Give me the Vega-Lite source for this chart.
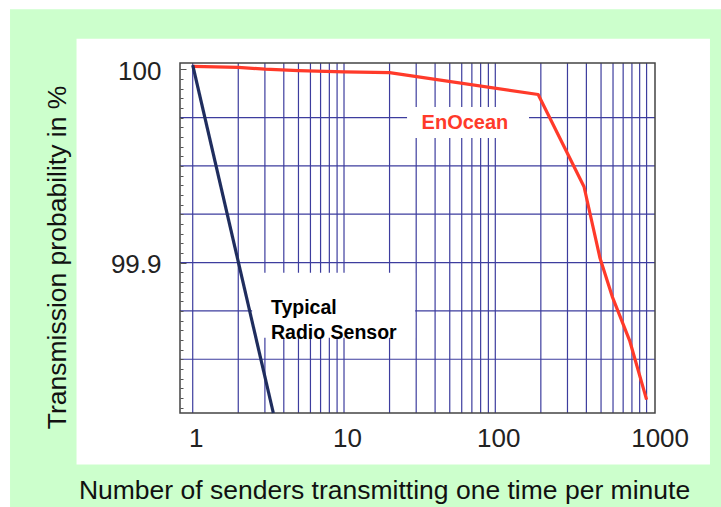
{
  "$schema": "https://vega.github.io/schema/vega-lite/v6.json",
  "width": 475,
  "height": 350,
  "autosize": {"type": "none"},
  "padding": {"left": 180, "top": 63, "right": 66, "bottom": 94},
  "background": "white",
  "config": {
    "font": "Liberation Sans",
    "view": {"stroke": null},
    "axis": {"zindex": 1, "grid": false}
  },
  "resolve": {"axis": {"y": "independent"}},
  "datasets": {
    "panels": [
      {"panel": "green", "x": 0.062, "x2": 5000, "y": 99.70, "y2": 100.031},
      {"panel": "white", "x": 0.1706, "x2": 2624, "y": 99.7956, "y2": 100.0158}
    ],
    "labelboxes": [
      {"x": 26.1, "x2": 167, "y": 99.9644, "y2": 99.9804},
      {"x": 2.47, "x2": 29.5, "y": 99.8611, "y2": 99.8947}
    ],
    "frame": [
      {"x": 0.824, "x2": 1136.6, "y": 99.8222, "y2": 100.0032}
    ],
    "vgrid": [
      {"x": 1}, {"x": 2}, {"x": 3}, {"x": 4}, {"x": 5}, {"x": 6}, {"x": 7}, {"x": 8}, {"x": 9},
      {"x": 10}, {"x": 20}, {"x": 30}, {"x": 40}, {"x": 50}, {"x": 60}, {"x": 70}, {"x": 80}, {"x": 90},
      {"x": 100}, {"x": 200}, {"x": 300}, {"x": 400}, {"x": 500}, {"x": 600}, {"x": 700}, {"x": 800}, {"x": 900},
      {"x": 1000}
    ],
    "hgrid": [
      {"y": 99.85}, {"y": 99.875}, {"y": 99.9}, {"y": 99.925}, {"y": 99.95}, {"y": 99.975}
    ],
    "curves": [
      {"series": "EnOcean", "x": 1, "y": 100.0015},
      {"series": "EnOcean", "x": 2, "y": 100.0009},
      {"series": "EnOcean", "x": 3, "y": 100.0},
      {"series": "EnOcean", "x": 5, "y": 99.9993},
      {"series": "EnOcean", "x": 10, "y": 99.9986},
      {"series": "EnOcean", "x": 20, "y": 99.9982},
      {"series": "EnOcean", "x": 192, "y": 99.9869},
      {"series": "EnOcean", "x": 386, "y": 99.9392},
      {"series": "EnOcean", "x": 492, "y": 99.9023},
      {"series": "EnOcean", "x": 593, "y": 99.8824},
      {"series": "EnOcean", "x": 776, "y": 99.8592},
      {"series": "EnOcean", "x": 1000, "y": 99.8291},
      {"series": "Typical Radio Sensor", "x": 1, "y": 100.0021},
      {"series": "Typical Radio Sensor", "x": 3.41, "y": 99.8222}
    ],
    "labels": [
      {"series": "EnOcean", "x": 63, "y": 99.9721, "text": "EnOcean"},
      {"series": "Typical Radio Sensor", "x": 3.29, "y": 99.8764, "text": ["Typical", "Radio Sensor"]}
    ]
  },
  "layer": [
    {
      "data": {"name": "panels"},
      "mark": {"type": "rect", "clip": false},
      "encoding": {
        "x": {
          "field": "x", "type": "quantitative",
          "scale": {"type": "log", "domain": [0.824, 1136.6], "nice": false},
          "axis": {
            "values": [1, 10, 100, 1000],
            "format": "d",
            "grid": false,
            "ticks": false,
            "domain": false,
            "zindex": 1,
            "labelFont": "Liberation Sans",
            "labelFontSize": 26,
            "labelColor": "#222222",
            "labelPadding": 12,
            "labelOffset": {"condition": {"test": "datum.value == 1000", "value": 13}, "value": 3},
            "labelFlush": false,
            "labelOverlap": false,
            "title": "Number of senders transmitting one time per minute",
            "titleFont": "Liberation Sans",
            "titleFontSize": 26.5,
            "titleFontWeight": "normal",
            "titleColor": "#111111",
            "titleX": 204,
            "titleY": 77,
            "titleAnchor": "middle",
            "titleAlign": "center",
            "titleBaseline": "middle"
          }
        },
        "x2": {"field": "x2"},
        "y": {
          "field": "y", "type": "quantitative",
          "scale": {"domain": [99.8222, 100.0032], "nice": false, "zero": false},
          "axis": {
            "orient": "left",
            "values": [99.9, 100],
            "format": "~g",
            "grid": false,
            "domain": false,
            "ticks": true,
            "zindex": 1,
            "offset": -6,
            "tickColor": "#555555",
            "tickWidth": 1,
            "tickSize": 6,
            "labelFont": "Liberation Sans",
            "labelFontSize": 26,
            "labelColor": "#222222",
            "labelPadding": 19,
            "labelOffset": 2,
            "labelFlush": false,
            "labelOverlap": false,
            "title": "Transmission probability in %",
            "titleFont": "Liberation Sans",
            "titleFontSize": 26.5,
            "titleFontWeight": "normal",
            "titleColor": "#111111",
            "titleAngle": 270,
            "titleX": -129,
            "titleY": 194,
            "titleAlign": "center",
            "titleBaseline": "middle"
          }
        },
        "y2": {"field": "y2"},
        "fill": {
          "field": "panel", "type": "nominal",
          "scale": {"domain": ["green", "white"], "range": ["#ccffcc", "#ffffff"]},
          "legend": null
        }
      }
    },
    {
      "data": {"name": "vgrid"},
      "mark": {"type": "rule", "color": "#3d3d9e", "strokeWidth": 1.2},
      "encoding": {
        "x": {"field": "x", "type": "quantitative", "scale": {"type": "log", "domain": [0.824, 1136.6], "nice": false}}
      }
    },
    {
      "data": {"name": "hgrid"},
      "mark": {"type": "rule", "color": "#3d3d9e", "strokeWidth": 1.2},
      "encoding": {
        "y": {
          "field": "y", "type": "quantitative",
          "scale": {"domain": [99.8222, 100.0032], "nice": false, "zero": false},
          "axis": {
            "orient": "left",
            "values": [99.825, 99.83, 99.835, 99.84, 99.845, 99.85, 99.855, 99.86, 99.865, 99.87, 99.875, 99.88, 99.885, 99.89, 99.895, 99.9, 99.905, 99.91, 99.915, 99.92, 99.925, 99.93, 99.935, 99.94, 99.945, 99.95, 99.955, 99.96, 99.965, 99.97, 99.975, 99.98, 99.985, 99.99, 99.995, 100],
            "labels": false,
            "grid": false,
            "domain": false,
            "ticks": true,
            "zindex": 1,
            "offset": -3,
            "tickColor": "#555555",
            "tickWidth": 1,
            "tickSize": 3,
            "title": null
          }
        }
      }
    },
    {
      "data": {"name": "labelboxes"},
      "mark": {"type": "rect", "color": "white"},
      "encoding": {
        "x": {"field": "x", "type": "quantitative", "scale": {"type": "log", "domain": [0.824, 1136.6], "nice": false}},
        "x2": {"field": "x2"},
        "y": {"field": "y", "type": "quantitative", "scale": {"domain": [99.8222, 100.0032], "nice": false, "zero": false}, "axis": null},
        "y2": {"field": "y2"}
      }
    },
    {
      "data": {"name": "frame"},
      "mark": {"type": "rect", "fill": null, "fillOpacity": 0, "stroke": "#444444", "strokeWidth": 1.5},
      "encoding": {
        "x": {"field": "x", "type": "quantitative", "scale": {"type": "log", "domain": [0.824, 1136.6], "nice": false}},
        "x2": {"field": "x2"},
        "y": {"field": "y", "type": "quantitative", "scale": {"domain": [99.8222, 100.0032], "nice": false, "zero": false}, "axis": null},
        "y2": {"field": "y2"}
      }
    },
    {
      "data": {"name": "curves"},
      "mark": {"type": "line", "strokeWidth": 3.2, "strokeJoin": "round"},
      "encoding": {
        "x": {"field": "x", "type": "quantitative", "scale": {"type": "log", "domain": [0.824, 1136.6], "nice": false}},
        "y": {"field": "y", "type": "quantitative", "scale": {"domain": [99.8222, 100.0032], "nice": false, "zero": false}, "axis": null},
        "stroke": {
          "field": "series", "type": "nominal",
          "scale": {"domain": ["EnOcean", "Typical Radio Sensor"], "range": ["#ff3a2a", "#1f2d5e"]},
          "legend": null
        }
      }
    },
    {
      "data": {"name": "labels"},
      "transform": [{"filter": "datum.series == 'EnOcean'"}],
      "mark": {"type": "text", "fontSize": 20, "fontWeight": "bold", "color": "#ff3a2a", "align": "center", "baseline": "middle", "font": "Liberation Sans"},
      "encoding": {
        "x": {"field": "x", "type": "quantitative", "scale": {"type": "log", "domain": [0.824, 1136.6], "nice": false}},
        "y": {"field": "y", "type": "quantitative", "scale": {"domain": [99.8222, 100.0032], "nice": false, "zero": false}, "axis": null},
        "text": {"field": "text"}
      }
    },
    {
      "data": {"name": "labels"},
      "transform": [{"filter": "datum.series != 'EnOcean'"}],
      "mark": {"type": "text", "fontSize": 19.5, "fontWeight": "bold", "color": "#000000", "align": "left", "baseline": "middle", "lineHeight": 25, "font": "Liberation Sans"},
      "encoding": {
        "x": {"field": "x", "type": "quantitative", "scale": {"type": "log", "domain": [0.824, 1136.6], "nice": false}},
        "y": {"field": "y", "type": "quantitative", "scale": {"domain": [99.8222, 100.0032], "nice": false, "zero": false}, "axis": null},
        "text": {"field": "text"}
      }
    }
  ]
}
